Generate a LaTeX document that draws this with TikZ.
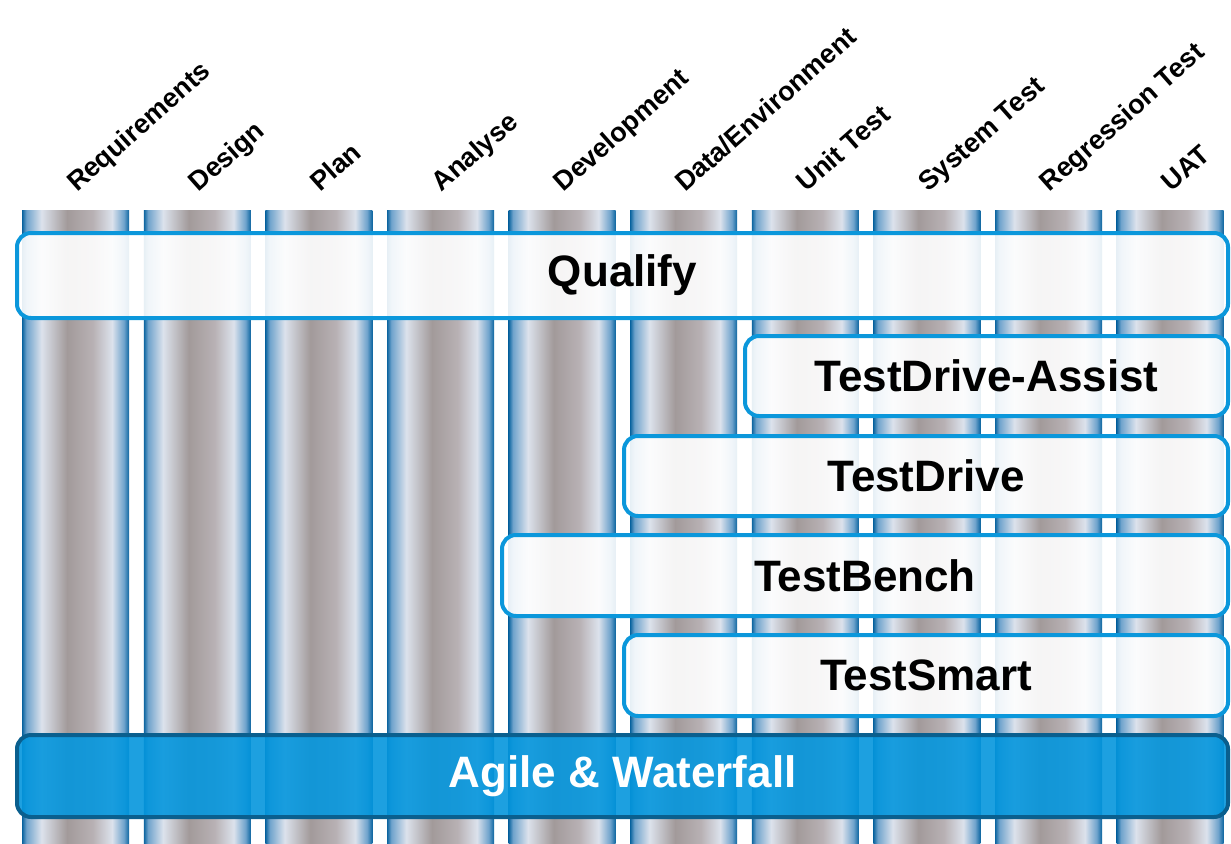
\documentclass[tikz,border=0pt]{standalone}
\usepackage{fontspec}
\setmainfont{Liberation Sans}
\definecolor{cdark}{HTML}{0C65A0}
\definecolor{cmid}{HTML}{6FA3CC}
\definecolor{clight}{HTML}{DCE2EC}
\definecolor{cgray}{HTML}{A29A9A}
\definecolor{cgray2}{HTML}{B8B1B4}
\definecolor{boxblue}{HTML}{0B97DB}
\definecolor{agilefill}{HTML}{0496DD}
\definecolor{agileline}{HTML}{0A5F8E}
% TikZ maps 25bp..75bp of a 100bp shading onto the path
\pgfdeclarehorizontalshading{colshade}{100bp}{color(0bp)=(cdark); color(25bp)=(cdark); color(27bp)=(cmid); color(34bp)=(clight); color(46bp)=(cgray); color(58bp)=(cgray2); color(67bp)=(clight); color(72.5bp)=(cmid); color(75bp)=(cdark); color(100bp)=(cdark)}
\tikzset{
  colbar/.style={shading=colshade, minimum width=107pt, minimum height=633pt, inner sep=0pt, anchor=north west},
  lab/.style={font=\bfseries\fontsize{27}{31}\selectfont, anchor=base west, rotate=41.5, inner sep=0pt},
  box/.style={draw=boxblue, line width=4pt, rounded corners=14pt, fill=white, fill opacity=0.9, text opacity=1, inner sep=0pt, font=\bfseries\fontsize{44}{50}\selectfont},
  agile/.style={draw=agileline, line width=4pt, rounded corners=14pt, fill=agilefill, fill opacity=0.9, text opacity=1, text=white, inner sep=0pt, font=\bfseries\fontsize{44}{50}\selectfont}
}
\begin{document}
\begin{tikzpicture}[x=1pt,y=-1pt]
\useasboundingbox (0,0) rectangle (1231,843);
\foreach \i in {0,...,9} {
  \node[colbar] (c\i) at ({22+\i*121.6},210) {};
}
\foreach \i/\t in {0/Requirements,1/Design,2/Plan,3/Analyse,4/Development,5/Data\slash Environment,6/Unit Test,7/System Test,8/Regression Test,9/UAT} {
  \node[lab] (l\i) at ({22+\i*121.6+55},193) {\t};
}
\node[box, minimum width=1211pt, minimum height=85pt] (qualify) at (622.5,275.5) {Qualify};
\node[box, minimum width=483pt, minimum height=80pt] (tda) at (986.5,376) {TestDrive-Assist};
\node[box, minimum width=604pt, minimum height=80pt] (td) at (926,476) {TestDrive};
\node[box, minimum width=726pt, minimum height=81pt] (tb) at (865,575.5) {TestBench};
\node[box, minimum width=604pt, minimum height=81pt] (ts) at (926,675.5) {TestSmart};
\node[agile, minimum width=1211pt, minimum height=82pt] (ag) at (622.5,776) {Agile \& Waterfall};
\end{tikzpicture}
\end{document}
